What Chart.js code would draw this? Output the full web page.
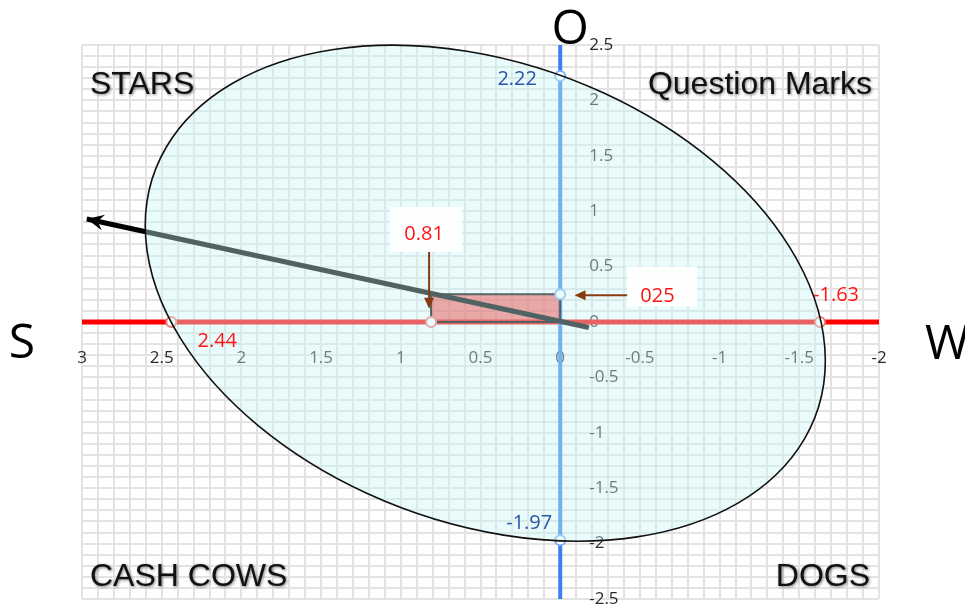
<!DOCTYPE html>
<html>
<head>
<meta charset="utf-8">
<script src="https://cdn.jsdelivr.net/npm/chart.js@4.4.1/dist/chart.umd.min.js"></script>
<style>
html, body { margin: 0; padding: 0; background: #fff; }
#wrap { width: 965px; height: 606px; position: relative; }
</style>
</head>
<body>
<div id="wrap"><canvas id="bcg"></canvas></div>
<script>
// --- dados do gráfico ---
const axisX = [3, -2];          // eixo S ... W
const axisY = [2.5, -2.5];      // eixo O ...
const xCuts = [2.44, -1.63];    // cortes da elipse no eixo horizontal
const yCuts = [2.22, -1.97];    // cortes da elipse no eixo vertical
const pointX = [0.81];
const pointY = [0.25];
const vectorX = [-0.18, 2.97];
const vectorY = [-0.05, 0.93];
const ellipseCenter = [0.47, 0.26];
const ellipseAxes = [2.47, 1.86];
const ellipseTilt = [50];       // graus
const tickStep = 0.1;
const labelStep = 0.5;
const quadrants = ['STARS', 'Question Marks', 'CASH COWS', 'DOGS'];
const sideLabels = ['S', 'W', 'O'];
const boxLabels = ['0.81', '025'];

const isLabel = v => Math.abs(v / labelStep - Math.round(v / labelStep)) < 1e-6;
const fmt = v => String(Math.round(v * 10) / 10);

function arrowHead(ctx, x1, y1, x2, y2, len, half, notch) {
    const a = Math.atan2(y2 - y1, x2 - x1);
    ctx.save();
    ctx.translate(x2, y2);
    ctx.rotate(a);
    ctx.beginPath();
    ctx.moveTo(0, 0);
    ctx.lineTo(-len, -half);
    ctx.lineTo(-notch, 0);
    ctx.lineTo(-len, half);
    ctx.closePath();
    ctx.fill();
    ctx.restore();
}

const bcgPlugin = {
    id: 'bcg',
    beforeDatasetsDraw(chart) {
        // rótulos dos eixos (ficam por baixo da elipse)
        const { ctx, scales: { x, y } } = chart;
        const x0 = x.getPixelForValue(0), y0 = y.getPixelForValue(0);
        ctx.save();
        ctx.font = '17px "Open Sans"';
        ctx.fillStyle = '#2a2a2a';
        ctx.textBaseline = 'middle';
        ctx.textAlign = 'center';
        x.ticks.forEach(t => { if (isLabel(t.value)) ctx.fillText(fmt(t.value), x.getPixelForValue(t.value), y0 + 36); });
        ctx.textAlign = 'left';
        y.ticks.forEach(t => { if (isLabel(t.value)) ctx.fillText(fmt(t.value), x0 + 29, y.getPixelForValue(t.value)); });
        ctx.restore();
    },
    afterDatasetDraw(chart, args) {
        if (chart.data.datasets[args.index].label !== 'vector') return;
        const { ctx } = chart;
        const pts = args.meta.data;
        const p0 = pts[pts.length - 2], p1 = pts[pts.length - 1];
        ctx.save();
        ctx.fillStyle = '#000';
        arrowHead(ctx, p0.x, p0.y, p1.x, p1.y, 17, 8, 11);
        ctx.restore();
    },
    afterDatasetsDraw(chart) {
        // elipse semi-transparente por cima das linhas
        const { ctx, scales: { x, y } } = chart;
        const x0 = x.getPixelForValue(0), y0 = y.getPixelForValue(0);
        const sx = x.getPixelForValue(1) - x0, sy = y.getPixelForValue(1) - y0;
        ctx.save();
        ctx.beginPath();
        ctx.save();
        ctx.translate(x0, y0);
        ctx.scale(sx, sy);
        ctx.ellipse(ellipseCenter[0], ellipseCenter[1], ellipseAxes[0], ellipseAxes[1], ellipseTilt[0] * Math.PI / 180, 0, Math.PI * 2);
        ctx.restore();
        ctx.fillStyle = 'rgba(200,245,245,0.4)';
        ctx.fill();
        ctx.strokeStyle = '#111';
        ctx.lineWidth = 1.6;
        ctx.stroke();
        ctx.restore();
    },
    afterDraw(chart) {
        const { ctx, chartArea: ca, scales: { x, y } } = chart;
        const x0 = x.getPixelForValue(0), y0 = y.getPixelForValue(0);
        const px = v => x.getPixelForValue(v), py = v => y.getPixelForValue(v);
        ctx.save();
        ctx.textBaseline = 'middle';

        // caixas 0.81 e 025 com setas
        ctx.fillStyle = 'rgba(255,255,255,0.95)';
        ctx.fillRect(px(pointX[0]) - 41, py(0.84) - 22, 72, 45);
        ctx.fillRect(px(-0.42), py(0.5), 70, 40);
        ctx.strokeStyle = '#8a3b12';
        ctx.fillStyle = '#8a3b12';
        ctx.lineWidth = 2;
        ctx.beginPath();
        ctx.moveTo(px(pointX[0]) - 2, py(0.84) + 23);
        ctx.lineTo(px(pointX[0]) - 2, py(0.12) - 8);
        ctx.moveTo(px(-0.42), py(pointY[0]) + 1);
        ctx.lineTo(px(-0.09) + 8, py(pointY[0]) + 1);
        ctx.stroke();
        arrowHead(ctx, px(pointX[0]) - 2, py(0.84), px(pointX[0]) - 2, py(0.12), 11, 5, 11);
        arrowHead(ctx, px(-0.42), py(pointY[0]) + 1, px(-0.09), py(pointY[0]) + 1, 11, 5, 11);

        ctx.font = '20px "Open Sans"';
        ctx.textAlign = 'center';
        ctx.fillStyle = '#ff1414';
        ctx.fillText(boxLabels[0], px(pointX[0]) - 7, py(0.84) + 5);
        ctx.fillText(boxLabels[1], px(-0.61), py(pointY[0]) + 2);

        // valores dos cortes
        ctx.fillText(String(xCuts[0]), px(xCuts[0]) + 46, y0 + 19);
        ctx.fillText(String(xCuts[1]), px(xCuts[1]) + 16, y0 - 27);
        ctx.fillStyle = '#2a55a8';
        ctx.fillText(String(yCuts[0]), x0 - 43, py(yCuts[0]) + 3);
        ctx.fillText(String(yCuts[1]), x0 - 31, py(yCuts[1]) - 17);

        // quadrantes
        ctx.font = '32px "Liberation Sans", Arial, sans-serif';
        ctx.fillStyle = '#111';
        ctx.shadowColor = 'rgba(0,0,0,0.5)';
        ctx.shadowBlur = 3;
        ctx.shadowOffsetX = 1;
        ctx.shadowOffsetY = 1;
        ctx.textAlign = 'left';
        ctx.fillText(quadrants[0], ca.left + 8, ca.top + 40);
        ctx.fillText(quadrants[2], ca.left + 8, ca.bottom - 22);
        ctx.textAlign = 'right';
        ctx.fillText(quadrants[1], ca.right - 7, ca.top + 40);
        ctx.fillText(quadrants[3], ca.right - 9, ca.bottom - 22);

        // letras dos eixos
        ctx.shadowColor = 'transparent';
        ctx.font = '48px "Open Sans"';
        ctx.fillStyle = '#000';
        ctx.textAlign = 'center';
        ctx.fillText(sideLabels[0], ca.left - 60, y0 + 22);
        ctx.fillText(sideLabels[2], x0 + 10, ca.top - 15);
        ctx.textAlign = 'left';
        ctx.fillText(sideLabels[1], ca.right + 46, y0 + 23);
        ctx.restore();
    }
};

const xy = (xs, ys) => xs.map((v, i) => ({ x: v, y: ys[i] }));

new Chart(document.getElementById('bcg'), {
    type: 'scatter',
    data: {
        datasets: [
            { label: 'cortes-x', data: [...xCuts.map(v => ({ x: v, y: 0 })), { x: pointX[0], y: 0 }],
              pointRadius: 5, pointBorderWidth: 2, pointBackgroundColor: '#fff', pointBorderColor: '#f07a7a', order: 1 },
            { label: 'cortes-y', data: [...yCuts.map(v => ({ x: 0, y: v })), { x: 0, y: pointY[0] }],
              pointRadius: 5, pointBorderWidth: 2, pointBackgroundColor: '#fff', pointBorderColor: '#7fb0f5', order: 1 },
            { label: 'vector', type: 'line', data: xy(vectorX, vectorY),
              borderColor: '#000', borderWidth: 5, pointRadius: 0, order: 2 },
            { label: 'rect', type: 'line',
              data: [{ x: 0, y: 0 }, { x: pointX[0], y: 0 }, { x: pointX[0], y: pointY[0] }, { x: 0, y: pointY[0] }, { x: 0, y: 0 }],
              fill: 'shape', backgroundColor: 'rgba(255,0,0,0.54)', borderColor: '#000', borderWidth: 2, pointRadius: 0, order: 3 },
            { label: 'eixo-y', type: 'line', data: axisY.map(v => ({ x: 0, y: v })),
              borderColor: '#3a80f2', borderWidth: 4, pointRadius: 0, order: 4 },
            { label: 'eixo-x', type: 'line', data: axisX.map(v => ({ x: v, y: 0 })),
              borderColor: '#ff0000', borderWidth: 5, pointRadius: 0, order: 5 }
        ]
    },
    options: {
        responsive: true,
        maintainAspectRatio: false,
        animation: false,
        layout: { padding: { left: 82, right: 86, top: 45, bottom: 3 } },
        plugins: { legend: { display: false }, tooltip: { enabled: false } },
        scales: {
            x: {
                type: 'linear', min: Math.min(...axisX), max: Math.max(...axisX), reverse: true,
                ticks: { stepSize: tickStep, display: false, autoSkip: false },
                grid: { color: '#e3e3e3', lineWidth: 2, drawTicks: false },
                border: { display: false }
            },
            y: {
                type: 'linear', min: Math.min(...axisY), max: Math.max(...axisY),
                ticks: { stepSize: tickStep, display: false, autoSkip: false },
                grid: { color: '#e3e3e3', lineWidth: 2, drawTicks: false },
                border: { display: false }
            }
        }
    },
    plugins: [bcgPlugin]
});
</script>
</body>
</html>
